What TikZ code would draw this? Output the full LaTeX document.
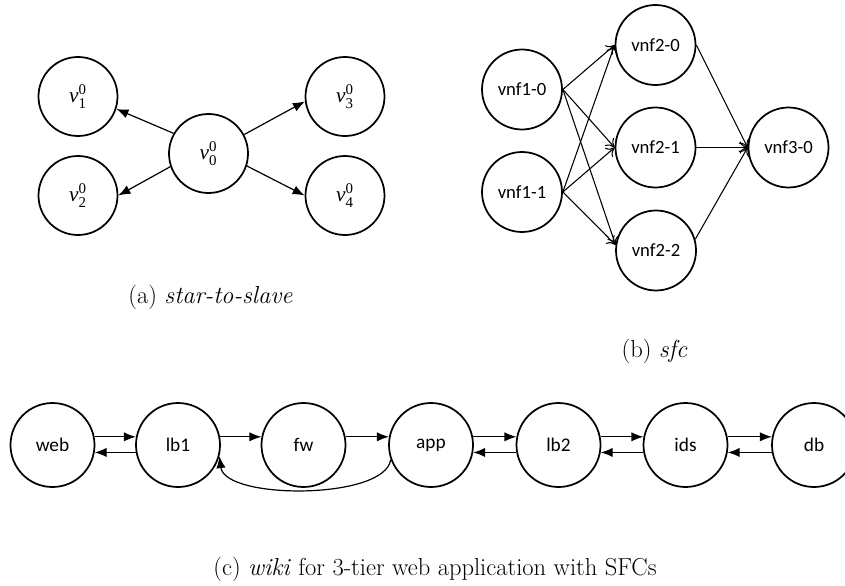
\documentclass[tikz,border=0pt]{standalone}
\usepackage{amsmath}
\usepackage{fontspec}
\newfontfamily\carlito{Carlito}
\newfontfamily\timesf{Liberation Serif}
\usetikzlibrary{arrows.meta}
\newlength\pxu \setlength\pxu{0.75pt}
\newcommand\vlab[1]{$\text{\timesf\itshape v}^{\text{\timesf 0}}_{\text{\timesf #1}}$}
\tikzset{
  circa/.style={circle, draw, line width=1.3pt, minimum size=79\pxu, inner sep=0pt, font=\timesf\fontsize{16}{18}\selectfont},
  circb/.style={circle, draw, line width=1.3pt, minimum size=80\pxu, inner sep=0pt, font=\carlito\fontsize{14}{16}\selectfont},
  circc/.style={circle, draw, line width=1.3pt, minimum size=84\pxu, inner sep=0pt, font=\carlito\fontsize{14.5}{16}\selectfont},
  fa/.style={line width=0.9pt, -{Latex[length=9pt,width=7pt]}},
  oa/.style={line width=0.8pt, -{To[length=6pt,width=9pt]}},
  captxt/.style={font=\fontsize{18.4}{21}\selectfont},
}
\begin{document}
\begin{tikzpicture}[x=0.75pt,y=-0.75pt]
\useasboundingbox (0,0) rectangle (845,585);
% (a)
\node[circa] (v0) at (208.5,153.5) {\vlab{0}};
\node[circa] (v1) at (78,96.5) {\vlab{1}};
\node[circa] (v2) at (78,195.5) {\vlab{2}};
\node[circa] (v3) at (345,96.5) {\vlab{3}};
\node[circa] (v4) at (345,195.5) {\vlab{4}};
\draw[fa] (v0.150) -- (v1.342);
\draw[fa] (v0.199) -- (v2.east);
\draw[fa] (v0.28) -- (v3.187);
\draw[fa] (v0.342) -- (v4.west);
\node[captxt] (capa) at (210.5,297) {(a) \textit{star-to-slave}};
% (b)
\node[circb] (n10) at (522,89.5) {vnf1-0};
\node[circb] (n11) at (522,192) {vnf1-1};
\node[circb] (n20) at (655.5,45) {vnf2-0};
\node[circb] (n21) at (655.5,147.5) {vnf2-1};
\node[circb] (n22) at (656,250.5) {vnf2-2};
\node[circb] (n30) at (788.5,147.5) {vnf3-0};
\foreach \s in {n10,n11}{
  \draw[oa] (\s.east) -- (n20.west);
  \draw[oa] (\s.east) -- (n21.west);
  \draw[oa] (\s.east) -- (n22.172);
}
\draw[oa] (n20.east) -- (n30.west);
\draw[oa] (n21.east) -- (n30.west);
\draw[oa] (n22.16) -- (n30.west);
\node[captxt] (capb) at (654.5,351) {(b) \textit{sfc}};
% (c)
\node[circc] (web) at (52.5,445) {web};
\node[circc] (lb1) at (178,445) {lb1};
\node[circc] (fw) at (303.5,445) {fw};
\node[circc] (app) at (431,445) {app};
\node[circc] (lb2) at (558.5,445) {lb2};
\node[circc] (ids) at (685.5,445) {ids};
\node[circc] (db) at (814,445) {db};
\foreach \a/\b in {web/lb1,app/lb2,lb2/ids,ids/db}{
  \draw[fa] (\a.11) -- (\b.169);
  \draw[fa] (\b.190) -- (\a.350);
}
\draw[fa] (lb1.11) -- (fw.169);
\draw[fa] (fw.11) -- (app.169);
\draw[fa] (app.200) .. controls (385,500) and (225,500) .. (lb1.-15);
\node[captxt] (capc) at (435,569) {(c) \textit{wiki} for 3-tier web application with SFCs};
\end{tikzpicture}
\end{document}
